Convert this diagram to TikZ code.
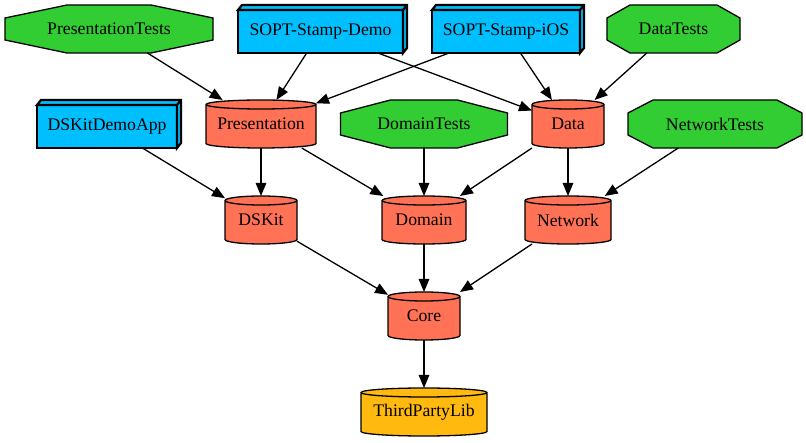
\documentclass[tikz,border=0pt]{standalone}
\usepackage{fontspec}
\setmainfont{Liberation Serif}
\usetikzlibrary{arrows.meta, calc, backgrounds}
\definecolor{testgreen}{HTML}{32CD32}
\definecolor{appblue}{HTML}{00BFFF}
\definecolor{libred}{HTML}{FF7256}
\definecolor{extorange}{HTML}{FFB90F}
\tikzstyle{line} = [draw, line width=1.3pt, -{Triangle[length=13pt, width=10.5pt]}]
\tikzstyle{test} = [rectangle, minimum height=48pt, inner sep=0pt, outer sep=0pt]
\tikzstyle{oct} = [draw, line width=1.3pt, fill=testgreen]
\tikzstyle{app} = [rectangle, draw, line width=2.2pt, fill=appblue,
  minimum height=43pt, inner sep=0pt, outer sep=0pt]
\tikzstyle{app3d} = [draw, line width=2.2pt, fill=appblue]
\tikzstyle{lib} = [rectangle, minimum height=48pt, inner sep=0pt, outer sep=0pt]
\tikzstyle{cyl} = [draw, line width=1.3pt]

\begin{document}
\begin{tikzpicture}[x=1pt, y=-1pt, node distance=96pt, font=\fontsize{17.7}{20}\selectfont]
  \useasboundingbox (0,0) rectangle (806,443);

  \node [test, minimum width=208pt] (presTests) at (109,29) {PresentationTests};
  \node [app, minimum width=165pt] (demo) at (320.5,31.5) {SOPT-Stamp-Demo};
  \node [app, minimum width=148pt] (ios) at (506,31.5) {SOPT-Stamp-iOS};
  \node [test, minimum width=133pt] (dataTests) at (673.5,29) {DataTests};

  \node [app, minimum width=140pt] (dsApp) at (107,126.5) {DSKitDemoApp};
  \node [lib, minimum width=110pt] (pres) at (261,124) {Presentation};
  \node [test, minimum width=167pt] (domainTests) at (424,124) {DomainTests};
  \node [lib, minimum width=72pt] (data) at (568,124) {Data};
  \node [test, minimum width=174pt] (networkTests) at (715,124) {NetworkTests};

  \node [lib, minimum width=72pt, below of=pres] (dskit) {DSKit};
  \node [lib, minimum width=84pt, below of=domainTests] (domain) {Domain};
  \node [lib, minimum width=86pt, below of=data] (network) {Network};
  \node [lib, minimum width=72pt, below of=domain] (core) {Core};
  \node [lib, minimum width=126pt, below of=core] (thirdParty) {ThirdPartyLib};

  \begin{scope}[on background layer]
    % octagons of the test targets
    \foreach \m/\cx in {presTests/62, dataTests/23, domainTests/50, networkTests/25}
      \draw [oct] ([xshift=\cx pt]\m.north west) -- ([xshift=-\cx pt]\m.north east)
        -- ([yshift=-13pt]\m.north east) -- ([yshift=13pt]\m.south east)
        -- ([xshift=-\cx pt]\m.south east) -- ([xshift=\cx pt]\m.south west)
        -- ([yshift=13pt]\m.south west) -- ([yshift=-13pt]\m.north west) -- cycle;
    % cylinders of the modules
    \foreach \m/\c in {pres/libred, data/libred, dskit/libred, domain/libred,
        network/libred, core/libred, thirdParty/extorange}
      \draw [cyl, fill=\c] let \p1=(\m.north west), \p2=(\m.south east), \n1={(\x2-\x1)/2} in
        (\x1,{\y1-4.5pt}) -- (\x1,{\y2+4.5pt})
        arc [start angle=180, end angle=360, x radius=\n1, y radius=4.5pt]
        -- (\x2,{\y1-4.5pt})
        arc [start angle=0, end angle=180, x radius=\n1, y radius=4.5pt] -- cycle
        (\x1,{\y1-4.5pt}) arc [start angle=180, end angle=360, x radius=\n1, y radius=4.5pt];
  \end{scope}

  % 3d sides of the app boxes
  \foreach \m in {demo, ios, dsApp}
    \draw [app3d] (\m.north west) -- ++(4pt,5pt) -- ([shift={(4pt,5pt)}]\m.north east)
      -- ([shift={(4pt,5pt)}]\m.south east) -- (\m.south east) -- (\m.north east) -- cycle
      (\m.north east) -- ++(4pt,5pt);

  \path [line] (presTests) -- (pres);
  \path [line] (demo) -- (pres);
  \path [line] (demo) -- (data);
  \path [line] (ios) -- (pres);
  \path [line] (ios) -- (data);
  \path [line] (dataTests) -- (data);
  \path [line] (dsApp) -- (dskit);
  \path [line] (pres) -- (dskit);
  \path [line] (pres) -- (domain);
  \path [line] (domainTests) -- (domain);
  \path [line] (data) -- (domain);
  \path [line] (data) -- (network);
  \path [line] (networkTests) -- (network);
  \path [line] (dskit) -- (core);
  \path [line] (domain) -- (core);
  \path [line] (network) -- (core);
  \path [line] (core) -- (thirdParty);

\end{tikzpicture}
\end{document}
